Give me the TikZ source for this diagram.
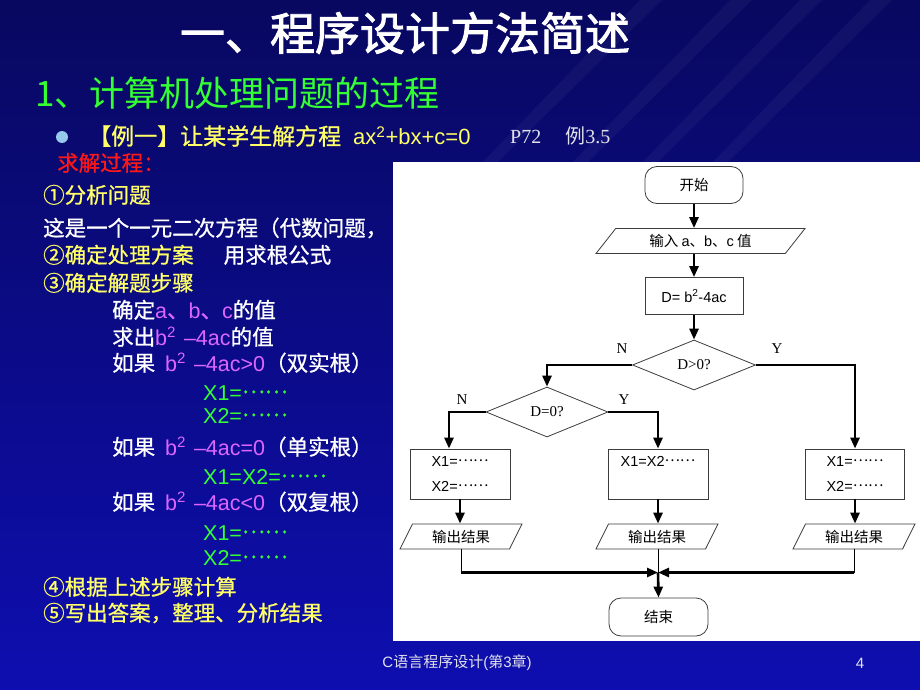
\documentclass[tikz,border=0pt]{standalone}
\usepackage{fontspec}
\setmainfont{Noto Sans CJK SC}
\newfontfamily\latf{Liberation Sans}
\newfontfamily\serf{Liberation Serif}
\newfontfamily\bodyf[FakeBold=0.8]{Noto Sans CJK SC}
\newfontfamily\titlef[FakeBold=2]{Noto Sans CJK SC}
\usetikzlibrary{shapes.geometric,arrows.meta}

\definecolor{bgtop}{RGB}{8,8,96}
\definecolor{bgbot}{RGB}{14,14,176}
\definecolor{txtyellow}{RGB}{255,255,102}
\definecolor{txtgreen}{RGB}{51,255,51}
\definecolor{txtmag}{RGB}{221,102,255}
\definecolor{txtred}{RGB}{255,24,24}
\definecolor{bullblue}{RGB}{150,200,235}
\definecolor{txtgray}{RGB}{225,225,235}
\definecolor{boxgray}{RGB}{60,60,60}

\newcommand\lat[1]{{\latf #1}}
\newcommand\mg[1]{\textcolor{txtmag}{#1}}
\newcommand\middots{\raisebox{.32em}{……}}

\tikzset{
  title/.style={font=\titlef\fontsize{45}{50}\selectfont},
  txt/.style={anchor=west, inner sep=0pt, text height=18pt, text depth=2pt, font=\bodyf\fontsize{21.5}{26}\selectfont},
  term/.style={draw=boxgray, line width=.8pt, rounded corners=12pt, minimum width=98pt, minimum height=37pt},
  proc/.style={draw=boxgray, line width=.8pt, minimum width=100pt, minimum height=50pt, align=center},
  io/.style={draw=boxgray, line width=.8pt, trapezium, trapezium stretches body, minimum height=25pt, inner sep=1pt},
  decide/.style={draw=boxgray, line width=.8pt, diamond, minimum width=123pt, minimum height=50pt, inner sep=0pt, font=\serf\fontsize{15}{17}\selectfont},
  yn/.style={font=\serf\fontsize{15}{17}\selectfont},
  flow/.style={line width=2.6pt, -{Triangle[length=11pt,width=9pt]}},
  wire/.style={line width=.9pt}
}

\begin{document}
\begin{tikzpicture}[x=1pt,y=-1pt]
\useasboundingbox (0,0) rectangle (920,690);
\shade[top color=bgtop, bottom color=bgbot] (0,0) rectangle (920,690);
\foreach \sx in {640,730,800,870}
  \fill[white, opacity=.04] (\sx,0) -- (\sx+22,0) -- (\sx-150,170) -- (\sx-165,170) -- cycle;

\node[title, white] (title) at (405,33) {一、程序设计方法简述};
\node[anchor=west, inner sep=0pt, txtgreen, font=\fontsize{35}{40}\selectfont] (sub) at (35,93) {1、计算机处理问题的过程};

\fill[bullblue] (62,137) circle (6);
\node[anchor=west, inner sep=0pt, txtyellow, font=\bodyf\fontsize{23}{26}\selectfont] (ex) at (88,136)
  {【例一】让某学生解方程\hspace{12pt}{\latf\fontsize{22}{26}\selectfont ax\textsuperscript{2}+bx+c=0}};
\node[anchor=west, inner sep=0pt, txtgray, font=\fontsize{20}{23}\selectfont] (ref) at (510,136)
  {{\serf P72}\hspace{24pt}例{\serf 3.5}};
\node[txt, txtred] (solve) at (57,163) {求解过程：};

\begin{scope}[white]
\node[txt, txtyellow] (s1) at (43,195) {①分析问题};
\node[txt] (s1a) at (43,228) {这是一个一元二次方程（代数问题，};
\node[txt] (s2) at (43,255) {\textcolor{txtyellow}{②确定处理方案}\hspace{30pt}用求根公式};
\node[txt, txtyellow] (s3) at (43,283) {③确定解题步骤};
\node[txt] (s3a) at (112,310) {确定\mg{\lat{a}、\lat{b}、\lat{c}}的值};
\node[txt] (s3b) at (112,337) {求出\mg{\lat{b\textsuperscript{2}\hspace{8pt}–4ac}}的值};
\node[txt] (s3c) at (112,363) {如果\hspace{10pt}\mg{\lat{b\textsuperscript{2}\hspace{8pt}–4ac>0}}（双实根）};
\node[txt] (s3d) at (112,447) {如果\hspace{10pt}\mg{\lat{b\textsuperscript{2}\hspace{8pt}–4ac=0}}（单实根）};
\node[txt] (s3e) at (112,502) {如果\hspace{10pt}\mg{\lat{b\textsuperscript{2}\hspace{8pt}–4ac<0}}（双复根）};
\foreach \yy/\xx in {392/X1=, 415/X2=, 476/X1=X2=, 532/X1=, 557/X2=}
  \node[txt, txtgreen] at (203,\yy) {\lat{\xx}\middots};
\node[txt, txtyellow] (s4) at (43,587) {④根据上述步骤计算};
\node[txt, txtyellow] (s5) at (43,613) {⑤写出答案，整理、分析结果};
\end{scope}

\node[txtgray, font=\fontsize{15}{18}\selectfont] (foot) at (457,663) {\lat{C}语言程序设计\lat{(}第\lat{3}章\lat{)}};
\node[txtgray, font=\latf\fontsize{15}{18}\selectfont] (page) at (860,663) {4};

\fill[white] (393,162) rectangle (920,641);

\begin{scope}[font=\fontsize{14.5}{25}\selectfont]
\node[term] (start) at (694,185) {开始};
\node[io, trapezium left angle=38, trapezium right angle=142, minimum width=209pt] (input) at (700.5,241) {输入 \lat{a}、\lat{b}、\lat{c} 值};
\node[proc, minimum width=98pt, minimum height=37pt] (calc) at (694,296) {\lat{D= b\textsuperscript{2}-4ac}};
\node[decide] (dgt) at (694,365) {D>0?};
\node[decide, minimum width=122pt] (deq) at (547,412) {D=0?};
\node[yn] (n1) at (622,349) {N};
\node[yn] (y1) at (777,349) {Y};
\node[yn] (n2) at (462,400) {N};
\node[yn] (y2) at (624,400) {Y};
\node[proc] (r1) at (460,474) {\lat{X1=}\middots\\\lat{X2=}\middots};
\node[proc] (r2) at (658,474) {\lat{X1=X2}\middots\\\mbox{}};
\node[proc, minimum width=99pt] (r3) at (855,474) {\lat{X1=}\middots\\\lat{X2=}\middots};
\node[io, trapezium left angle=51, trapezium right angle=129, minimum width=122pt] (o1) at (461,536.5) {输出结果};
\node[io, trapezium left angle=51, trapezium right angle=129, minimum width=122pt] (o2) at (657,536.5) {输出结果};
\node[io, trapezium left angle=51, trapezium right angle=129, minimum width=122pt] (o3) at (854,536.5) {输出结果};
\node[term, minimum width=99pt, minimum height=38pt] (stop) at (658.5,617) {结束};
\coordinate (merge) at (658,572.5);

\draw[flow] (start.south) -- (start.south |- input.north);
\draw[flow] (calc.north |- input.south) -- (calc.north);
\draw[flow] (calc.south) -- (dgt.north);
\draw[flow] (dgt.west) -| (deq.north);
\draw[flow] (dgt.east) -| (r3.north);
\draw[flow] (deq.west) -| ([xshift=-11pt]r1.north);
\draw[flow] (deq.east) -| (r2.north);
\foreach \r/\o in {r1/o1, r2/o2, r3/o3}
  \draw[flow] (\r.south) -- (\r.south |- \o.north);
\foreach \o in {o1, o3} {
  \draw[wire] (\o.south) -- (\o.south |- merge);
  \draw[flow] (\o.south |- merge) -- (merge);
}
\draw[wire] (merge |- o2.south) -- (merge);
\draw[flow] (merge) -- (stop.north);
\end{scope}
\end{tikzpicture}
\end{document}
